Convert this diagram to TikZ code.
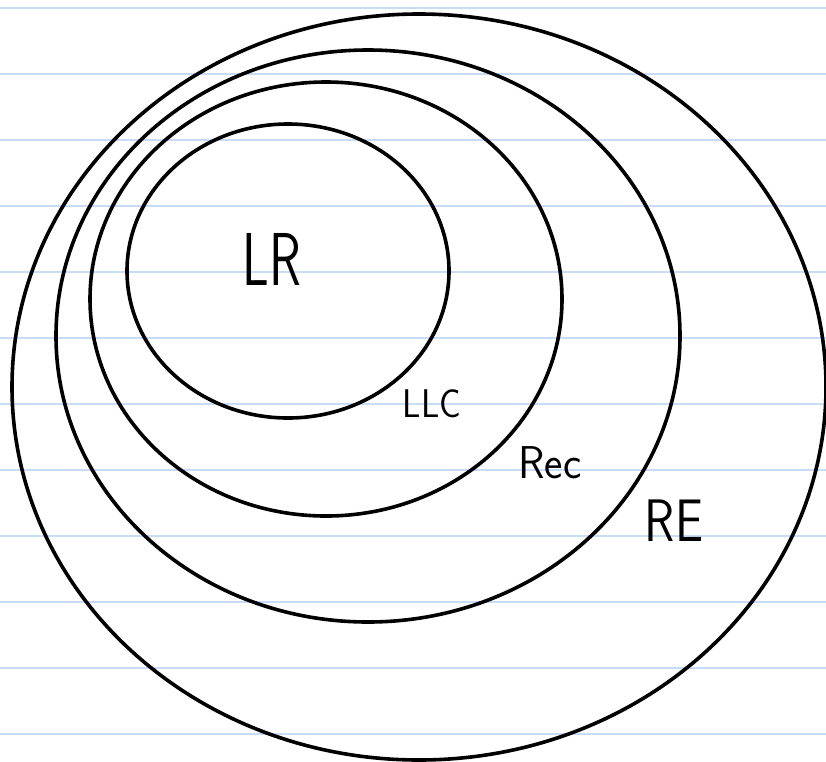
\documentclass[tikz,border=0pt]{standalone}
\usepackage{graphicx}
\definecolor{ruleblue}{HTML}{C8DCF8}
\tikzset{
  rule/.style={draw=ruleblue, line width=2.6pt},
  ring/.style={draw=black, line width=3.6pt},
  lbl/.style={inner sep=0pt, font=\sffamily}
}
\begin{document}
\begin{tikzpicture}[x=1pt,y=-1pt]
\useasboundingbox (0,0) rectangle (826,761);
\fill[white] (0,0) rectangle (826,761);
\clip (0,0) rectangle (826,761);
\foreach \yy in {8,74,...,740} \draw[rule] (0,\yy) -- (826,\yy);
\draw[ring] (419,387) ellipse [x radius=407pt, y radius=373pt];
\draw[ring] (368,336) ellipse [x radius=312pt, y radius=286pt];
\draw[ring] (326,299) ellipse [x radius=236pt, y radius=217pt];
\draw[ring] (288,271) ellipse [x radius=161pt, y radius=147pt];
\node[lbl] (lr) at (272,259) {\scalebox{0.7}[1]{\fontsize{75}{80}\selectfont LR}};
\node[lbl] (llc) at (432,404) {\scalebox{0.9}[1]{\fontsize{40}{44}\selectfont LLC}};
\node[lbl] (rec) at (550,463) {\scalebox{0.95}[1]{\fontsize{46}{50}\selectfont Rec}};
\node[lbl] (re) at (674,521) {\scalebox{0.83}[1]{\fontsize{60}{64}\selectfont RE}};
\end{tikzpicture}
\end{document}
